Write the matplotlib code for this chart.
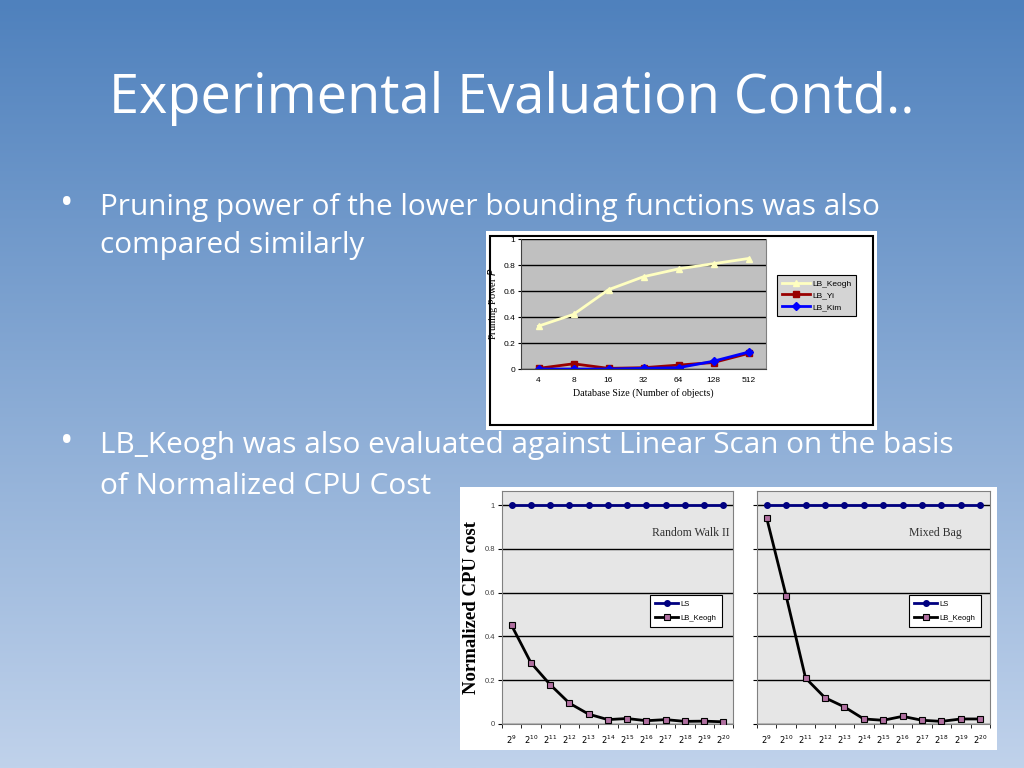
import numpy as np
import matplotlib
matplotlib.use("Agg")
import matplotlib.pyplot as plt
from matplotlib.patches import Rectangle

# ---------------- data ----------------
title = "Experimental Evaluation Contd.."
bullet1 = ["Pruning power of the lower bounding functions was also",
           "compared similarly"]
bullet2 = ["LB_Keogh was also evaluated against Linear Scan on the basis",
           "of Normalized CPU Cost"]

db_sizes = ["4", "8", "16", "32", "64", "128", "512"]
pp_keogh = [0.33, 0.42, 0.61, 0.71, 0.77, 0.81, 0.85]
pp_yi = [0.005, 0.04, 0.005, 0.01, 0.03, 0.05, 0.12]
pp_kim = [0.0, 0.0, 0.0, 0.005, 0.01, 0.06, 0.13]

cpu_ticks = [r"$2^{%d}$" % e for e in range(9, 21)]
rw_ls = [1.0] * 12
rw_keogh = [0.45, 0.28, 0.18, 0.095, 0.045, 0.02, 0.025, 0.015, 0.02, 0.012, 0.013, 0.01]
mb_ls = [1.0] * 12
mb_keogh = [0.94, 0.585, 0.21, 0.12, 0.078, 0.023, 0.017, 0.035, 0.017, 0.012, 0.023, 0.023]

W, H = 1024, 768
fig = plt.figure(figsize=(W / 100, H / 100), dpi=100)


def rect(x0, y0, x1, y1):
    return [x0 / W, 1 - y1 / H, (x1 - x0) / W, (y1 - y0) / H]


def pt(x, y):
    return (x / W, 1 - y / H)


# background gradient
bg = fig.add_axes([0, 0, 1, 1])
top = np.array([79, 129, 189]) / 255
bot = np.array([192, 210, 235]) / 255
t = np.linspace(0, 1, 256)[:, None]
grad = top[None, :] * (1 - t) + bot[None, :] * t
bg.imshow(grad[:, None, :], aspect="auto", extent=[0, 1, 0, 1])
bg.set_axis_off()

sans = ["Open Sans", "DejaVu Sans"]
fig.text(*pt(512, 98), title, color="white", fontsize=39, family=sans,
         ha="center", va="center")

fs_b = 21.4
for i, line in enumerate(bullet1):
    fig.text(*pt(100, 208 + 38 * i), line, color="white", fontsize=fs_b,
             family=sans, ha="left", va="center")
fig.text(*pt(67, 205), "•", color="white", fontsize=26, family=sans,
         ha="center", va="center")
for i, line in enumerate(bullet2):
    fig.text(*pt(100, 446 + 40 * i), line, color="white", fontsize=fs_b,
             family=sans, ha="left", va="center")
fig.text(*pt(67, 443), "•", color="white", fontsize=26, family=sans,
         ha="center", va="center")

# ---------- top chart image ----------
img1 = fig.add_axes(rect(486, 231, 877, 430))
img1.set_facecolor("white")
img1.set_xlim(0, 1)
img1.set_ylim(0, 1)
img1.set_xticks([])
img1.set_yticks([])
for s in img1.spines.values():
    s.set_visible(False)
img1.add_patch(Rectangle(((490 - 486) / 391, (430 - 425) / 199),
                         (873 - 490) / 391, (425 - 236) / 199,
                         fill=False, edgecolor="black", lw=1.5))

serif = ["Liberation Serif", "DejaVu Serif"]
asans = ["Liberation Sans", "DejaVu Sans"]

ax1 = fig.add_axes(rect(521, 239, 766, 369))
ax1.set_facecolor("#C0C0C0")
x1 = np.arange(len(db_sizes))
ax1.plot(x1, pp_keogh, color="#FFFFC0", marker="^", ms=5, lw=2, label="LB_Keogh")
ax1.plot(x1, pp_yi, color="#990000", marker="s", ms=4, lw=2, label="LB_Yi")
ax1.plot(x1, pp_kim, color="#0000FF", marker="D", ms=4, lw=2, label="LB_Kim")
ax1.set_xlim(-0.5, len(db_sizes) - 0.5)
ax1.set_ylim(0, 1)
ax1.set_yticks([0, 0.2, 0.4, 0.6, 0.8, 1])
ax1.set_yticklabels(["0", "0.2", "0.4", "0.6", "0.8", "1"])
ax1.set_xticks(x1)
ax1.set_xticklabels(db_sizes)
ax1.tick_params(axis="y", labelsize=6, length=2, pad=2)
ax1.tick_params(axis="x", labelsize=6, length=0, pad=6)
for lab in ax1.get_xticklabels() + ax1.get_yticklabels():
    lab.set_family(asans)
ax1.yaxis.grid(True, color="black", lw=1)
ax1.set_axisbelow(True)
for k, s in ax1.spines.items():
    s.set_color("#404040")
    s.set_linewidth(0.8)
ax1.spines["top"].set_visible(False)
ax1.spines["right"].set_color("#808080")
ax1.set_xlabel("Database Size (Number of objects)", family=serif, fontsize=7.2,
               labelpad=3)
ax1.set_ylabel("Pruning Power $P$", family=serif, fontsize=7.5, labelpad=3)
leg1 = ax1.legend(loc="upper left", bbox_to_anchor=((777 - 521) / 245, (369 - 275) / 130),
                  fontsize=6, frameon=True, fancybox=False, edgecolor="black",
                  facecolor="#D4D4D4", framealpha=1, handlelength=3.3,
                  borderpad=0.6, labelspacing=0.45, handletextpad=0.3,
                  borderaxespad=0)
leg1.get_frame().set_linewidth(0.8)
for txt in leg1.get_texts():
    txt.set_family(asans)

# ---------- bottom chart image ----------
img2 = fig.add_axes(rect(460, 487, 997, 750))
img2.set_facecolor("white")
img2.set_xticks([])
img2.set_yticks([])
for s in img2.spines.values():
    s.set_visible(False)


def cpu_panel(box, ls, keogh, name, name_x, show_y, legend_x):
    ax = fig.add_axes(rect(*box))
    ax.set_facecolor("#E6E6E6")
    x = np.arange(len(cpu_ticks))
    ax.plot(x, ls, color="#000080", marker="o", ms=4, lw=2, label="LS", zorder=3)
    ax.plot(x, keogh, color="black", marker="s", ms=4, lw=2,
            markerfacecolor="#B070A0", markeredgecolor="black",
            markeredgewidth=0.8, label="LB_Keogh", zorder=3)
    ax.set_xlim(-0.5, len(cpu_ticks) - 0.5)
    ax.set_ylim(0, 1.064)
    ax.set_yticks([0, 0.2, 0.4, 0.6, 0.8, 1])
    if show_y:
        ax.set_yticklabels(["0", "0.2", "0.4", "0.6", "0.8", "1"])
    else:
        ax.set_yticklabels([])
    ax.set_xticks(x)
    ax.set_xticklabels(cpu_ticks)
    ax.set_xticks(np.arange(-0.5, len(cpu_ticks)), minor=True)
    ax.tick_params(axis="x", which="major", length=0, labelsize=6, pad=7)
    ax.tick_params(axis="x", which="minor", length=3, direction="out")
    ax.tick_params(axis="y", labelsize=5.5, length=3, pad=2)
    for lab in ax.get_yticklabels():
        lab.set_family(asans)
        lab.set_color("#404040")
    ax.yaxis.grid(True, color="black", lw=1)
    ax.set_axisbelow(True)
    for s in ax.spines.values():
        s.set_color("#808080")
        s.set_linewidth(0.8)
    ax.text(name_x, 0.87, name, family=serif, fontsize=8.5, color="#303030",
            ha="center", va="center")
    lg = ax.legend(loc="upper left",
                   bbox_to_anchor=((legend_x - box[0]) / (box[2] - box[0]),
                                   (724 - 595) / 233),
                   fontsize=5.5, frameon=True, fancybox=False, edgecolor="black",
                   facecolor="white", framealpha=1, handlelength=3.0,
                   borderpad=0.7, labelspacing=0.9, handletextpad=0.3,
                   borderaxespad=0)
    lg.get_frame().set_linewidth(0.8)
    for txt in lg.get_texts():
        txt.set_family(asans)
    return ax


axL = cpu_panel((502, 491, 733, 724), rw_ls, rw_keogh, "Random Walk II", 9.3, True, 650)
axL.set_ylabel("Normalized CPU cost", family=serif, fontsize=13.5, fontweight="bold",
               labelpad=3)
axR = cpu_panel((757, 491, 990, 724), mb_ls, mb_keogh, "Mixed Bag", 8.7, False, 909)

fig.savefig("out.png", dpi=100)
